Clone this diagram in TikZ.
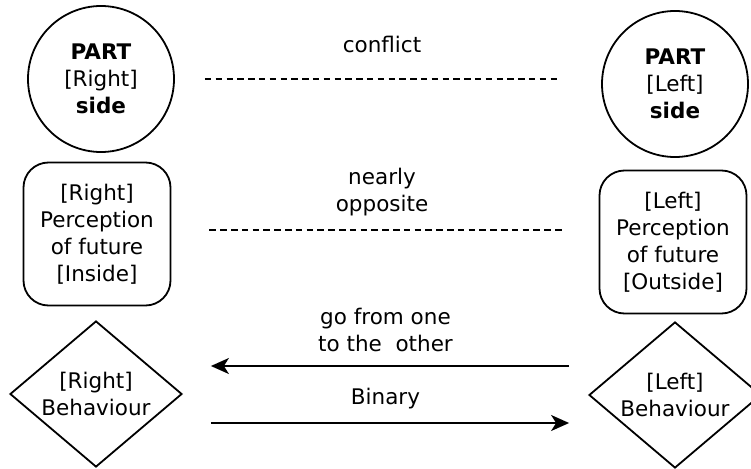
\documentclass[tikz,border=0pt]{standalone}
\usepackage{fontspec}
\setmainfont{DejaVu Sans}
\usepackage{tikz}
\usetikzlibrary{arrows.meta,positioning,shapes.geometric}

\begin{document}
\begin{tikzpicture}[x=1pt, y=-1pt, on grid]
\tikzstyle{every node}=[font=\fontsize{21.5}{27}\selectfont, align=center, text=black]
\tikzstyle{part}=[circle, draw=black, line width=1.8pt, minimum size=146pt, inner sep=0pt]
\tikzstyle{view}=[rectangle, rounded corners=25pt, draw=black, line width=1.8pt, minimum width=147pt, minimum height=143pt, inner sep=0pt]
\tikzstyle{act}=[diamond, draw=black, line width=1.8pt, aspect=1.18, minimum width=172pt, minimum height=146pt, inner sep=0pt]
\tikzstyle{gap}=[dash pattern=on 6.5pt off 4.3pt, line width=1.8pt]
\tikzstyle{flow}=[-{Stealth[length=18pt, width=16pt, inset=5pt]}, line width=1.8pt]
\tikzstyle{tag}=[inner sep=0pt]
\useasboundingbox (0,0) rectangle (751,468);
\node[part]    (RP) at (101,79)                     {\textbf{PART}\\{[Right]}\\\textbf{side}};
\node[view]    (RV)[below=155pt of RP, xshift=-4pt] {{[Right]}\\Perception\\of future\\{[Inside]}};
\node[act]     (RB)[below=160pt of RV, xshift=-1pt] {{[Right]}\\Behaviour};
\node[part]    (LP)[right=574pt of RP, yshift=-5pt] {\textbf{PART}\\{[Left]}\\\textbf{side}};
\node[view]    (LV)[right=576pt of RV, yshift=-8pt] {{[Left]}\\Perception\\of future\\{[Outside]}};
\node[act]     (LB)[right=579pt of RB, yshift=-1pt] {{[Left]}\\Behaviour};
\draw[gap, shorten <=30pt, shorten >=44pt] (RP.east) -- (RP.east -| LP.west)
    node[tag, midway, above=25pt, xshift=-6pt] {conflict};
\draw[gap, shorten <=38pt, shorten >=36pt] ([yshift=4pt]RV.east) -- ([yshift=4pt]RV.east -| LV.west)
    node[tag, midway, above=13pt, xshift=-3pt] {nearly\\opposite};
\draw[flow, shorten <=19pt, shorten >=28pt] ([yshift=29pt]LB.west) -- ([yshift=29pt]LB.west -| RB.east)
    node[tag, midway, above=13pt] {go from one\\to the\ \ other};
\draw[flow, shorten <=28pt, shorten >=19pt] ([yshift=-29pt]RB.east) -- ([yshift=-29pt]RB.east -| LB.west)
    node[tag, midway, above=13pt] {Binary};
\end{tikzpicture}
\end{document}
